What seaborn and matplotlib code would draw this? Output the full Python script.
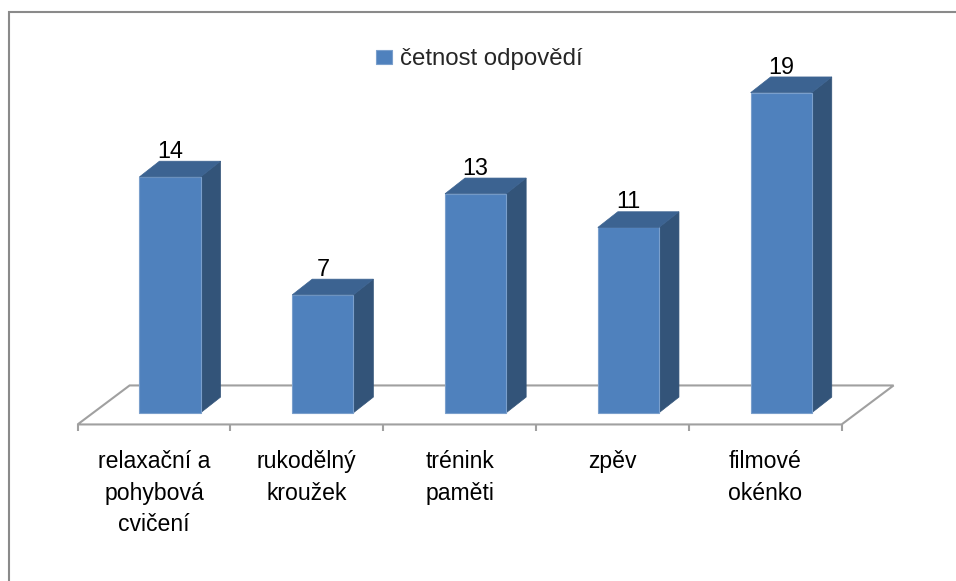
import pandas as pd
import matplotlib.pyplot as plt
from matplotlib.patches import Polygon, Rectangle
import seaborn as sns

# ---------------------------- DATA ---------------------------------

categories = [
    "relaxační a\npohybová\ncvičení",
    "rukodělný\nkroužek",
    "trénink\npaměti",
    "zpěv",
    "filmové\nokénko",
]
values = [14, 7, 13, 11, 19]
series_name = "četnost odpovědí"

# ---------------------------- STYLE --------------------------------

FRONT = "#4f81bd"
SIDE = "#335479"
TOP = "#3c6391"
EDGE = "#7a9fcc"
GRID = "#a0a0a0"

# pixel geometry of the fake 3D (Excel style)
PX_X = 152.8   # pixels per category
PX_Y = 16.85   # pixels per value unit
ORIGIN_X = 170.0  # pixel x of first bar centre
ORIGIN_Y = 412.8  # pixel y (from top) of value 0
W, H = 956, 581

BAR_DX, BAR_DY = 20 / PX_X, 15.7 / PX_Y
FLOOR_DX, FLOOR_DY = 52 / PX_X, 39 / PX_Y
TICK_LEN = 7 / PX_Y

sns.set_theme(style="white")
plt.rcParams["font.family"] = ["Liberation Sans", "DejaVu Sans"]

fig = plt.figure(figsize=(W / 100, H / 100), dpi=100)
ax = fig.add_axes([0, 0, 1, 1])

df = pd.DataFrame({"cat": categories, "val": values})
sns.barplot(
    data=df, x="cat", y="val", width=0.4, color=FRONT, saturation=1,
    edgecolor=EDGE, linewidth=0.8, label=series_name, ax=ax, zorder=3,
)
bars = list(ax.patches)

ax.set_xlim(-ORIGIN_X / PX_X, (W - ORIGIN_X) / PX_X)
ax.set_ylim((ORIGIN_Y - H) / PX_Y, ORIGIN_Y / PX_Y)
ax.axis("off")

# floor
n = len(categories)
ox = -(FLOOR_DX - BAR_DX) / 2
oy = -(FLOOR_DY - BAR_DY) / 2
floor = Polygon(
    [(-0.5 + ox, oy), (n - 0.5 + ox, oy),
     (n - 0.5 + ox + FLOOR_DX, oy + FLOOR_DY), (-0.5 + ox + FLOOR_DX, oy + FLOOR_DY)],
    closed=True, facecolor="white", edgecolor=GRID, lw=1.5, zorder=1,
)
ax.add_patch(floor)
ax.vlines([k - 0.5 + ox for k in range(n + 1)], oy - TICK_LEN, oy, color=GRID, lw=1.5, zorder=1)

# side and top faces + value labels
for p, v in zip(bars, values):
    x0, w, h = p.get_x(), p.get_width(), p.get_height()
    x1 = x0 + w
    side = Polygon([(x1, 0), (x1 + BAR_DX, BAR_DY), (x1 + BAR_DX, h + BAR_DY), (x1, h)],
                   closed=True, facecolor=SIDE, edgecolor=SIDE, lw=0.5, zorder=2)
    top = Polygon([(x0, h), (x1, h), (x1 + BAR_DX, h + BAR_DY), (x0 + BAR_DX, h + BAR_DY)],
                  closed=True, facecolor=TOP, edgecolor=TOP, lw=0.5, zorder=4)
    ax.add_patch(side)
    ax.add_patch(top)
    ax.text(x0 + w / 2, h + BAR_DY + 0.2, str(v), ha="center", va="baseline",
            fontsize=16.8, color="black")

# category labels under the floor
for k, cat in enumerate(categories):
    ax.text(k + ox, (ORIGIN_Y - 450) / PX_Y, cat, ha="center", va="top",
            fontsize=16.6, linespacing=1.48, color="black")

# legend
leg = ax.get_legend()
if leg is not None:
    leg.remove()
handles, labels = ax.get_legend_handles_labels()
ax.legend(
    handles[:1], labels[:1], loc="center left",
    bbox_to_anchor=(376 / W, 1 - 59.5 / H), bbox_transform=fig.transFigure,
    frameon=False, borderpad=0, borderaxespad=0, fontsize=17.3,
    handlelength=0.65, handleheight=0.57, handletextpad=0.35,
)

# chart border (only top and left visible)
fig.patches.append(Rectangle((9 / W, -0.1), 1.2, (H - 11.5) / H + 0.1,
                             transform=fig.transFigure, fill=False,
                             edgecolor="#8a8a8a", lw=1.5))

fig.savefig("out.png", dpi=100)
